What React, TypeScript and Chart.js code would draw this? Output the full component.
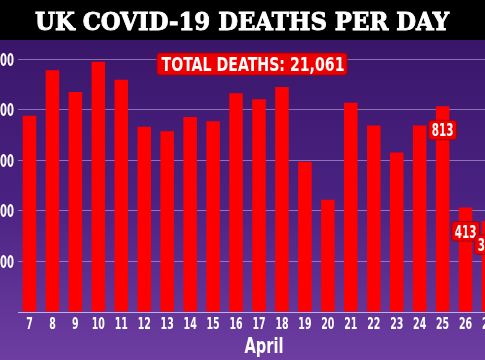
import React, { useEffect, useRef } from 'react';
import { Chart, registerables } from 'chart.js';

Chart.register(...registerables);

// ---- data ----
const days: string[] = ['7', '8', '9', '10', '11', '12', '13', '14', '15', '16', '17', '18', '19', '20', '21', '22', '23', '24', '25', '26', '27'];
const deaths: number[] = [776, 956, 870, 989, 918, 732, 714, 771, 754, 865, 841, 889, 594, 444, 827, 737, 630, 737, 813, 413, 360];
const labelledDays: string[] = ['25', '26', '27'];
const totalDeaths = 21061;
const yMin = 0;
const yMax = 1000;
const yStep = 200;
const chartTitle = 'UK COVID-19 DEATHS PER DAY';
const totalLabel = 'TOTAL DEATHS: ';
const xAxisTitle = 'April';

const COND = '"DejaVu Sans Condensed", "DejaVu Sans", sans-serif';
const SLAB = '"DejaVu Serif", "Liberation Serif", serif';

function box(ctx: CanvasRenderingContext2D, x: number, y: number, w: number, h: number, r: number) {
  ctx.beginPath();
  if ((ctx as any).roundRect) (ctx as any).roundRect(x, y, w, h, r);
  else ctx.rect(x, y, w, h);
}

function condensedText(
  ctx: CanvasRenderingContext2D,
  text: string,
  x: number,
  y: number,
  size: number,
  sx: number,
  align: CanvasTextAlign,
) {
  ctx.save();
  ctx.translate(x, y);
  ctx.scale(sx, 1);
  ctx.font = `bold ${size}px ${COND}`;
  ctx.textAlign = align;
  ctx.textBaseline = 'alphabetic';
  ctx.fillStyle = '#ffffff';
  ctx.fillText(text, 0, 0);
  ctx.restore();
}

function condensedWidth(ctx: CanvasRenderingContext2D, text: string, size: number, sx: number) {
  ctx.save();
  ctx.font = `bold ${size}px ${COND}`;
  const w = ctx.measureText(text).width * sx;
  ctx.restore();
  return w;
}

const backdrop = {
  id: 'backdrop',
  beforeDraw(chart: any) {
    const { ctx, width, height } = chart;
    ctx.save();
    const g = ctx.createLinearGradient(0, 40, 0, height);
    g.addColorStop(0, '#3a166a');
    g.addColorStop(0.5, '#4a2282');
    g.addColorStop(1, '#6e3ea2');
    ctx.fillStyle = g;
    ctx.fillRect(0, 0, width, height);
    ctx.fillStyle = '#000';
    ctx.fillRect(0, 0, width, 40);
    ctx.fillStyle = '#fff';
    ctx.strokeStyle = '#fff';
    ctx.lineWidth = 0.9;
    ctx.font = `bold 25px ${SLAB}`;
    ctx.textAlign = 'center';
    ctx.textBaseline = 'alphabetic';
    ctx.fillText(chartTitle, 242, 30, 414);
    ctx.strokeText(chartTitle, 242, 30, 414);
    ctx.restore();
  },
};

const axisText = {
  id: 'axisText',
  afterDraw(chart: any) {
    const { ctx, chartArea } = chart;
    const xs = chart.scales.x;
    const ys = chart.scales.y;
    // x tick labels
    xs.ticks.forEach((t: any, i: number) => {
      const x = xs.getPixelForTick(i);
      condensedText(ctx, String(xs.getLabelForValue(t.value)), x, chartArea.bottom + 16.5, 15, 0.7, 'center');
    });
    // y tick labels
    ys.ticks.forEach((t: any, i: number) => {
      if (Number(t.value) === 0) return;
      const y = ys.getPixelForTick(i);
      condensedText(ctx, Number(t.value).toLocaleString('en-US'), chartArea.left - 4, y + 6.5, 18, 0.62, 'right');
    });
    // x axis title
    condensedText(ctx, xAxisTitle, (chartArea.left + chartArea.right) / 2 + 5, chartArea.bottom + 40.5, 22, 0.74, 'center');
  },
};

const annotations = {
  id: 'annotations',
  afterDatasetsDraw(chart: any) {
    const { ctx } = chart;
    ctx.save();
    // total box
    const totalText = totalLabel + totalDeaths.toLocaleString('en-US');
    box(ctx, 157, 53, 190, 22, 3);
    ctx.fillStyle = '#ee0000';
    ctx.fill();
    ctx.strokeStyle = '#a8000c';
    ctx.lineWidth = 1;
    ctx.stroke();
    ctx.fillStyle = '#fff';
    ctx.font = `bold 19px ${COND}`;
    ctx.textAlign = 'center';
    ctx.textBaseline = 'alphabetic';
    ctx.fillText(totalText, 253, 70.5, 183);

    // value labels
    const meta = chart.getDatasetMeta(0);
    labelledDays.forEach((d) => {
      const i = days.indexOf(d);
      const bar = meta.data[i];
      if (!bar) return;
      const txt = String(deaths[i]);
      const w = condensedWidth(ctx, txt, 17, 0.68) + 6;
      const top = bar.y + 14;
      box(ctx, bar.x - w / 2, top, w, 19.5, 3);
      ctx.fillStyle = '#ee0000';
      ctx.fill();
      ctx.strokeStyle = '#a8000c';
      ctx.lineWidth = 1;
      ctx.stroke();
      condensedText(ctx, txt, bar.x, top + 16, 17, 0.68, 'center');
    });
    ctx.restore();
  },
};

export default function App() {
  const ref = useRef<HTMLCanvasElement | null>(null);
  useEffect(() => {
    if (!ref.current) return;
    const chart = new Chart(ref.current, {
      type: 'bar',
      data: {
        labels: days,
        datasets: [
          {
            data: deaths,
            backgroundColor: '#ff0000',
            borderWidth: 0,
            barPercentage: 0.59,
            categoryPercentage: 1,
          },
        ],
      },
      options: {
        responsive: false,
        devicePixelRatio: 1,
        animation: false,
        layout: { padding: { top: 59, right: 20, bottom: 48, left: 0 } },
        plugins: { legend: { display: false }, tooltip: { enabled: false } },
        scales: {
          x: {
            grid: { display: false, drawTicks: false },
            border: { display: true, color: 'rgba(205,185,240,0.85)', width: 1 },
            ticks: { display: false, autoSkip: false, maxRotation: 0 },
          },
          y: {
            min: yMin,
            max: yMax,
            afterFit(scale: any) {
              scale.width = 18;
            },
            grid: { color: 'rgba(200,180,235,0.55)', drawTicks: false },
            border: { display: false },
            ticks: { display: false, stepSize: yStep },
          },
        },
      },
      plugins: [backdrop, annotations, axisText],
    });
    return () => chart.destroy();
  }, []);
  return (
    <div style={{ position: 'fixed', left: 0, top: 0, width: 485, height: 360, overflow: 'hidden' }}>
      <canvas ref={ref} width={520} height={360} style={{ display: 'block' }} />
    </div>
  );
}
